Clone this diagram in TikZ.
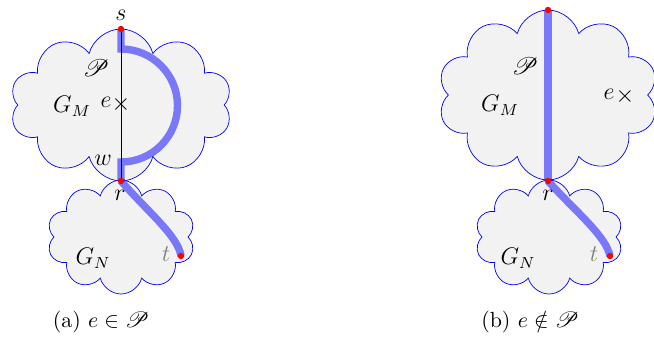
\documentclass[tikz,border=0pt]{standalone}
\usepackage{amssymb}
\usepackage{mathrsfs}
\usetikzlibrary{shapes.symbols}
\begin{document}
\begin{tikzpicture}[x=0.5pt,y=-0.5pt,
  cloudbox/.style={cloud, cloud puffs=10, cloud ignores aspect, draw=blue, line width=0.35pt, fill=gray!10, inner sep=0pt},
  pathline/.style={draw=blue, draw opacity=0.5, line width=3.7pt},
  edgeline/.style={draw=black, line width=0.35pt},
  dot/.style={circle, fill=red, inner sep=0pt, minimum size=3.2pt},
  lbl/.style={font=\fontsize{12}{14}\selectfont, inner sep=0pt},
  captext/.style={font=\fontsize{10.95}{13}\selectfont, inner sep=0pt}]
\useasboundingbox (0,0) rectangle (654,339);
% ---------- (a) ----------
\node[cloudbox, minimum width=111pt, minimum height=76pt] (GMa) at (121,105) {};
\node[cloudbox, minimum width=74pt, minimum height=57pt] (GNa) at (121,237) {};
\coordinate (sa) at (121,29);
\coordinate (ra) at (121,181);
\coordinate (ta) at (181,256);
\coordinate (pa1) at (121,49);
\draw[edgeline] (sa) -- (ra);
\draw[pathline] (sa) -- (pa1) arc[start angle=-90, end angle=90, radius=56.5] -- (ra);
\draw[pathline] (ra) .. controls (148,212) and (178,236) .. (ta);
\node[dot] (dsa) at (sa) {};
\node[dot] (dra) at (ra) {};
\node[dot] (dta) at (ta) {};
\node[lbl] (sla) at (121,15) {$s$};
\node[lbl] (wla) at (103,160) {$w$};
\node[lbl] (rla) at (120,195) {$r$};
\node[lbl] (Pa) at (96,68) {$\mathscr{P}$};
\node[lbl] (GMla) at (72,106) {$G_M$};
\node[lbl] (ela) at (106,102) {$e$};
\node[lbl] (xa) at (121,104) {$\times$};
\node[lbl, text=gray] (tla) at (166,254) {$t$};
\node[lbl] (GNla) at (93,258) {$G_N$};
\node[captext] (capa) at (101,322) {(a) $e\in\mathscr{P}$};
% ---------- (b) ----------
\node[cloudbox, minimum width=110pt, minimum height=85pt] (GMb) at (548,95) {};
\node[cloudbox, minimum width=74pt, minimum height=57pt] (GNb) at (549,237) {};
\coordinate (sb) at (548,10);
\coordinate (rb) at (548,181);
\coordinate (tb) at (610,256);
\draw[pathline] (sb) -- (rb);
\draw[pathline] (rb) .. controls (576,212) and (606,236) .. (tb);
\node[dot] (dsb) at (sb) {};
\node[dot] (drb) at (rb) {};
\node[dot] (dtb) at (tb) {};
\node[lbl] (rlb) at (548,195) {$r$};
\node[lbl] (Pb) at (525,66) {$\mathscr{P}$};
\node[lbl] (GMlb) at (500,105) {$G_M$};
\node[lbl] (elb) at (609,94) {$e$};
\node[lbl] (xb) at (625,96) {$\times$};
\node[lbl, text=gray] (tlb) at (594,254) {$t$};
\node[lbl] (GNlb) at (518,258) {$G_N$};
\node[captext] (capb) at (530,322) {(b) $e\notin\mathscr{P}$};
\end{tikzpicture}
\end{document}
